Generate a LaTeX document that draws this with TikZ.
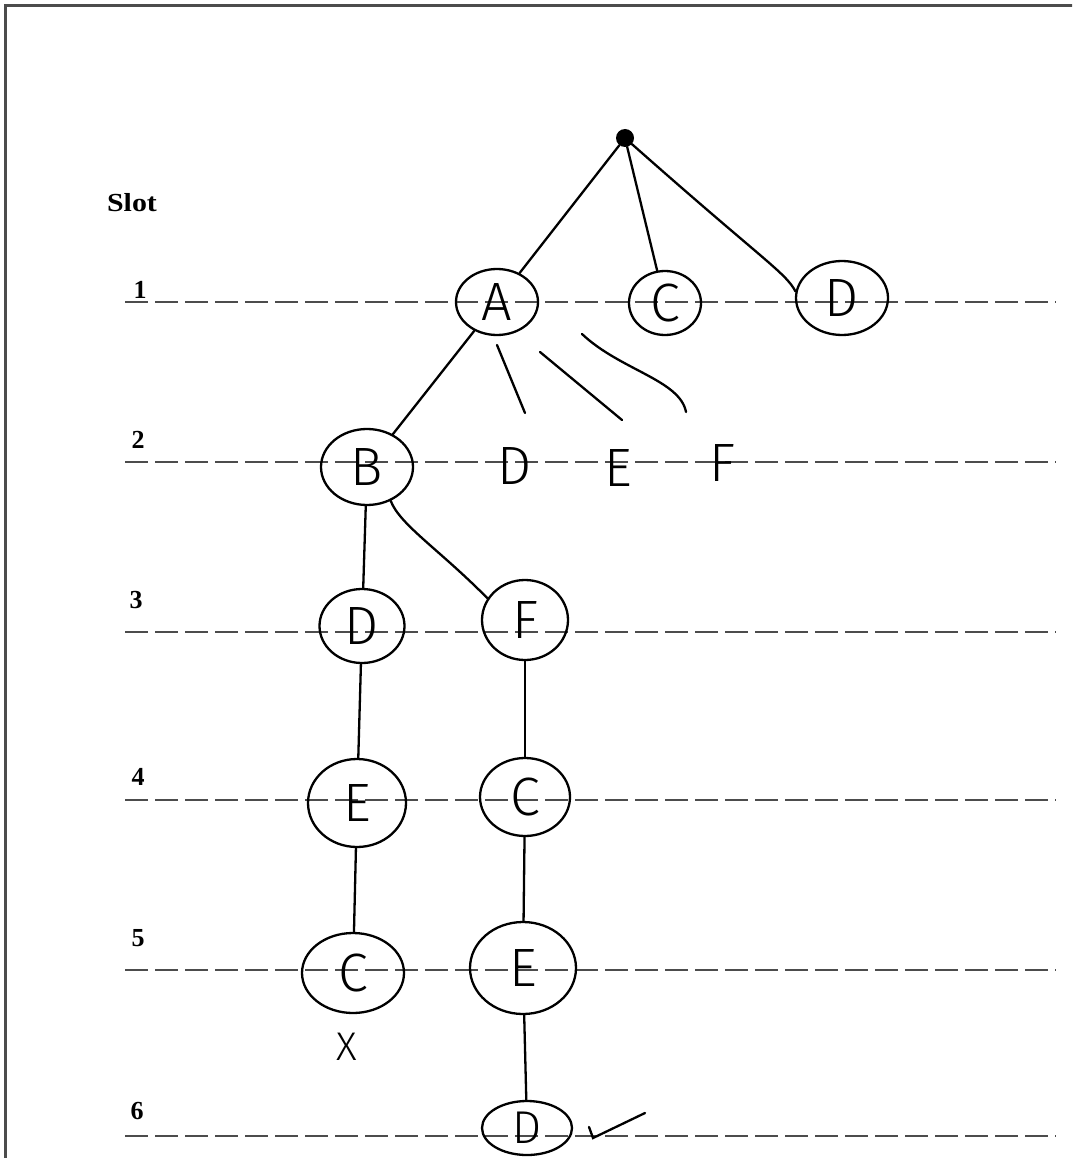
\documentclass[tikz,border=0pt]{standalone}
\usepackage{fontspec}
\newfontfamily\hand{Fira Sans Light}
\newfontfamily\slotfont{Liberation Serif}
\usetikzlibrary{shapes.geometric}
\begin{document}
\begin{tikzpicture}[x=1pt,y=-1pt,
  slotline/.style={draw=black!70, line width=2pt, dash pattern=on 23pt off 7pt},
  circ/.style={ellipse, draw, line width=2.3pt, inner sep=0pt, font=\hand\fontsize{54}{54}\selectfont},
  letter/.style={inner sep=0pt, font=\hand\fontsize{54}{54}\selectfont},
  edge/.style={line width=2.3pt, line cap=round},
  slotlbl/.style={font=\slotfont\bfseries\fontsize{26}{26}\selectfont, inner sep=0pt}]
\useasboundingbox (0,0) rectangle (1072,1158);
\clip (0,0) rectangle (1072,1158);
\fill[white] (0,0) rectangle (1072,1158);
% frame
\draw[line width=3pt, black!70] (5,1160) -- (5,6) -- (1074,6);
% slot labels and lines
\node[slotlbl, xscale=1.15] (slot) at (132,203) {Slot};
\node[slotlbl] (n1) at (140,290) {1};
\node[slotlbl] (n2) at (138,440) {2};
\node[slotlbl] (n3) at (136,600) {3};
\node[slotlbl] (n4) at (138,777) {4};
\node[slotlbl] (n5) at (138,938) {5};
\node[slotlbl] (n6) at (137,1111) {6};
\coordinate (l1a) at (125,302); \coordinate (l1b) at (1056,302);
\coordinate (l2a) at (125,462); \coordinate (l2b) at (1056,462);
\coordinate (l3a) at (125,632); \coordinate (l3b) at (1056,632);
\coordinate (l4a) at (125,800); \coordinate (l4b) at (1056,800);
\coordinate (l5a) at (125,970); \coordinate (l5b) at (1056,970);
\coordinate (l6a) at (125,1136); \coordinate (l6b) at (1056,1136);
\foreach \i in {1,...,6} {\draw[slotline] (l\i a) -- (l\i b);}
% root
\node[circle, fill=black, inner sep=0pt, minimum size=18pt] (root) at (625,138) {};
% slot 1
\node[circ, minimum width=82pt, minimum height=66pt] (A) at (497,302) {A};
\node[circ, minimum width=72pt, minimum height=64pt] (C1) at (665,303) {C};
\node[circ, minimum width=92pt, minimum height=74pt] (D1) at (842,298) {D};
% slot 2
\node[circ, minimum width=92pt, minimum height=76pt] (B) at (367,467) {B};
\node[letter] (D2) at (515,466) {D};
\node[letter] (E2) at (618,468) {E};
\node[letter] (F2) at (722,463) {F};
% slot 3
\node[circ, minimum width=85pt, minimum height=74pt] (D3) at (362,626) {D};
\node[circ, minimum width=86pt, minimum height=80pt] (F3) at (525,620) {F};
% slot 4
\node[circ, minimum width=98pt, minimum height=88pt] (E4) at (357,803) {E};
\node[circ, minimum width=90pt, minimum height=78pt] (C4) at (525,797) {C};
% slot 5
\node[circ, minimum width=102pt, minimum height=80pt] (C5) at (353,973) {C};
\node[circ, minimum width=106pt, minimum height=92pt] (E5) at (523,968) {E};
\node[font=\hand\fontsize{40}{40}\selectfont, inner sep=0pt] (X) at (347,1047) {X};
% slot 6
\node[circ, minimum width=90pt, minimum height=54pt, font=\hand\fontsize{46}{46}\selectfont] (D6) at (527,1128) {D};
% connectors
\draw[edge] (root) -- (A);
\draw[edge] (root) -- (C1);
\draw[edge] (root) .. controls (765,262) and (785,272) .. (D1.172);
\draw[edge] (A) -- (B);
\draw[edge] (B) -- (D3);
\draw[edge] (B.-55) .. controls (400,525) and (440,550) .. (F3.150);
\draw[edge] (D3) -- (E4);
\draw[edge] (F3) -- (C4);
\draw[edge] (E4) -- (C5);
\draw[edge] (C4) -- (E5);
\draw[edge] (E5) -- (D6);
% stray strokes below A
\coordinate (sa1) at (497,345); \coordinate (sb1) at (525,413);
\coordinate (sa2) at (540,352); \coordinate (sb2) at (622,420);
\coordinate (sa3) at (582,334); \coordinate (sb3) at (686,412);
\draw[edge] (sa1) -- (sb1);
\draw[edge] (sa2) -- (sb2);
\draw[edge] (sa3) .. controls (620,370) and (680,380) .. (sb3);
% tick mark
\coordinate (t1) at (589,1127); \coordinate (t2) at (593,1138); \coordinate (t3) at (645,1113);
\draw[edge] (t1) -- (t2) -- (t3);
\end{tikzpicture}
\end{document}
